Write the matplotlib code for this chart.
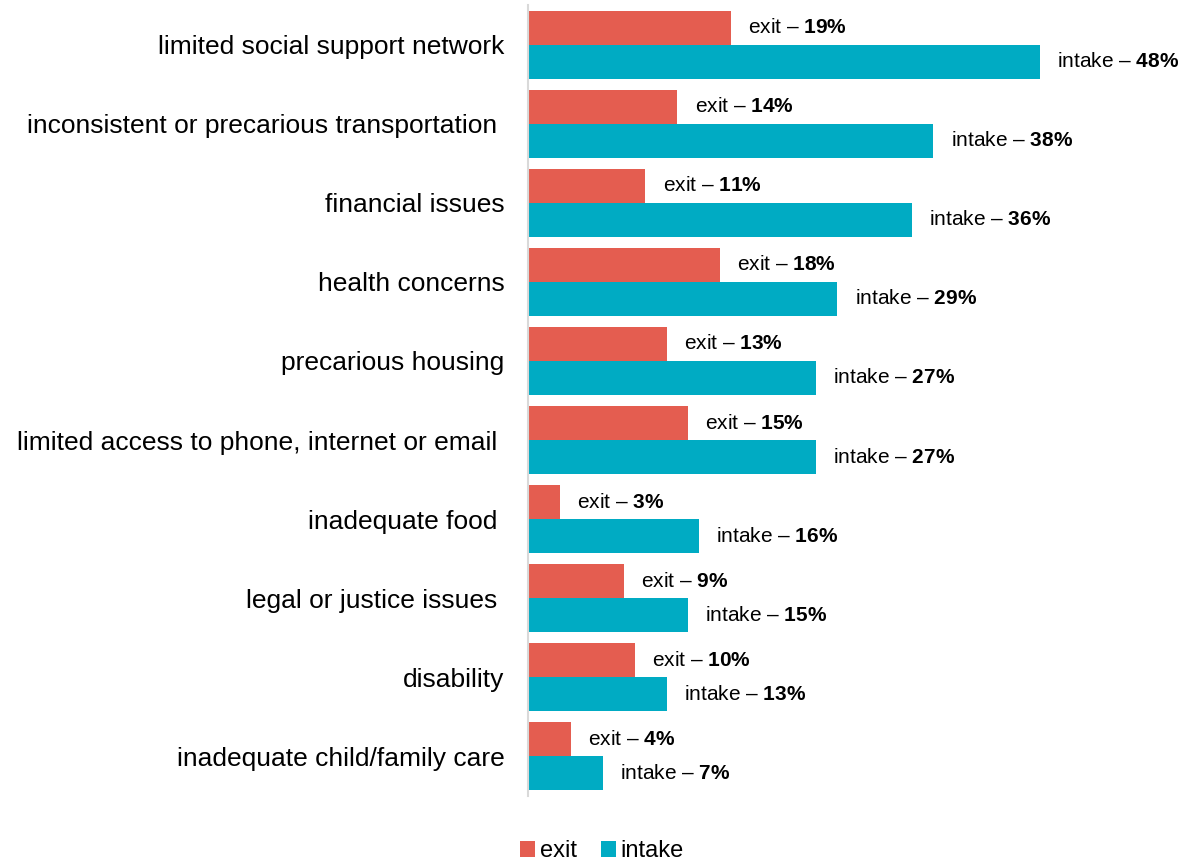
import matplotlib
matplotlib.use('Agg')
import matplotlib.pyplot as plt
import numpy as np

plt.rcParams['font.family'] = ['Liberation Sans', 'DejaVu Sans']
plt.rcParams['mathtext.fontset'] = 'custom'
plt.rcParams['mathtext.rm'] = 'Liberation Sans'
plt.rcParams['mathtext.bf'] = 'Liberation Sans:bold'

# barriers reported at intake vs exit (percent)
categories = ['limited social support network',
              'inconsistent or precarious transportation ',
              'financial issues',
              'health concerns',
              'precarious housing',
              'limited access to phone, internet or email ',
              'inadequate food ',
              'legal or justice issues ',
              'disability',
              'inadequate child/family care']
exit_vals = [19, 14, 11, 18, 13, 15, 3, 9, 10, 4]
intake_vals = [48, 38, 36, 29, 27, 27, 16, 15, 13, 7]

red = '#E45D50'
teal = '#00ABC3'

fig = plt.figure(figsize=(11.85, 8.6), dpi=100)
ax = fig.add_axes([528 / 1185, 1 - 796 / 860, 640 / 1185, 791 / 860])

y = np.arange(len(categories))
h = 0.43
b1 = ax.barh(y - h / 2, exit_vals, height=h, color=red, label='exit')
b2 = ax.barh(y + h / 2, intake_vals, height=h, color=teal, label='intake')

for yy, v in zip(y, exit_vals):
    ax.annotate('exit – $\\mathbf{%d\\%%}$' % v, xy=(v, yy - h / 2), xytext=(12.5, 0),
                textcoords='offset points', va='center', ha='left', fontsize=15)
for yy, v in zip(y, intake_vals):
    ax.annotate('intake – $\\mathbf{%d\\%%}$' % v, xy=(v, yy + h / 2), xytext=(12.5, 0),
                textcoords='offset points', va='center', ha='left', fontsize=15)

ax.set_xlim(0, 60)
ax.set_ylim(len(categories) - 0.5, -0.5)
ax.set_yticks(y)
ax.set_yticklabels(categories, fontsize=19)
ax.tick_params(axis='y', length=0, pad=17)
ax.set_xticks([])
for s in ['top', 'right', 'bottom']:
    ax.spines[s].set_visible(False)
ax.spines['left'].set_color('#D9D9D9')
ax.spines['left'].set_linewidth(1.5)

fig.legend(handles=[b1, b2], loc='lower center', bbox_to_anchor=(0.508, -0.027), ncol=2,
           frameon=False, fontsize=17, handlelength=0.65, handleheight=0.65,
           handletextpad=0.2, columnspacing=1.0)

fig.savefig('out.png', dpi=100)
